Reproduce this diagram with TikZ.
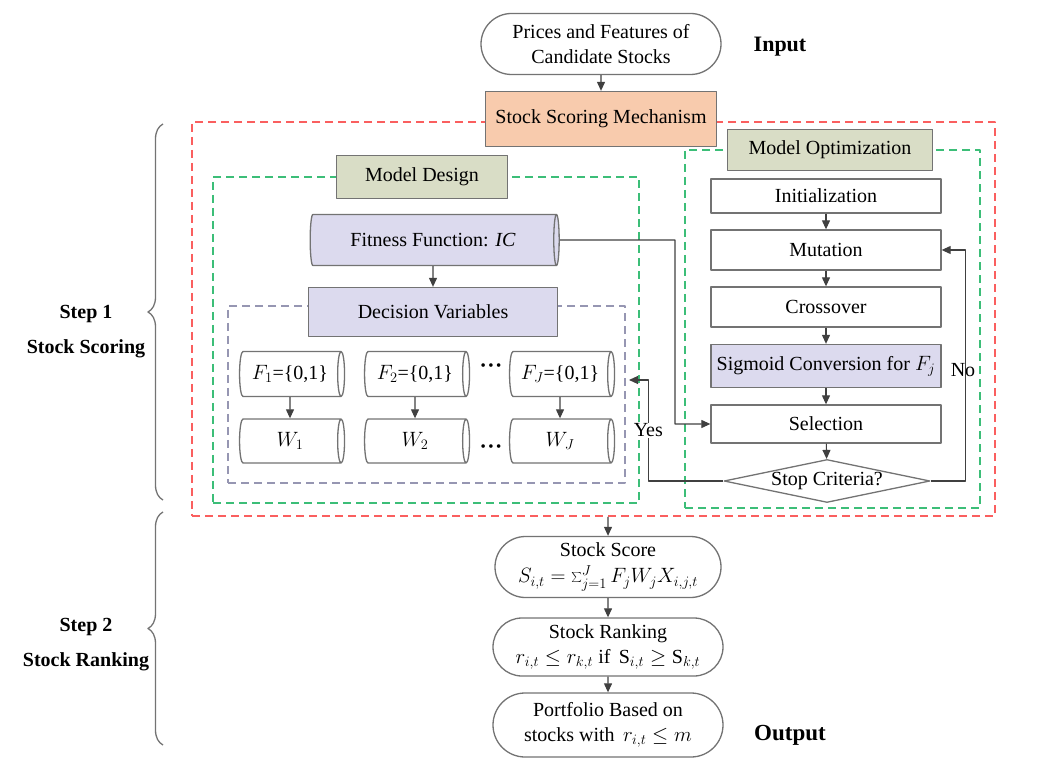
\documentclass[tikz,border=0pt]{standalone}
\usepackage{fontspec}
\setmainfont{Liberation Serif}
\usetikzlibrary{arrows.meta,shapes.geometric,shapes.misc,decorations.pathreplacing}

\definecolor{scorefill}{HTML}{F8CBAD}
\definecolor{headfill}{HTML}{D9DDC6}
\definecolor{varfill}{HTML}{DCDAEE}
\definecolor{redline}{RGB}{250,95,95}
\definecolor{greenline}{RGB}{60,190,120}
\definecolor{grayline}{RGB}{150,150,178}
\definecolor{edgecol}{RGB}{115,115,115}

\tikzset{
  terminal/.style={rounded rectangle, draw=edgecol, line width=1.3pt, fill=white,
    minimum width=230pt, minimum height=60pt, inner sep=0pt, align=center},
  box/.style={rectangle, draw=edgecol, line width=1.3pt, fill=white, inner sep=0pt, align=center},
  optbox/.style={box, minimum width=230pt, minimum height=40pt},
  headbox/.style={box, fill=headfill, minimum height=43pt},
  tube/.style={cylinder, draw=edgecol, line width=1.3pt, fill=white, shape aspect=0.4,
    inner sep=0pt, minimum width=45pt, minimum height=105pt},
  frame/.style={draw, dashed, dash pattern=on 8pt off 5pt, line width=1.5pt, inner sep=0pt},
  arr/.style={->, draw=black!75, line width=1.1pt},
  sidelabel/.style={font=\fontsize{22}{26}\selectfont\bfseries},
  steplabel/.style={font=\fontsize{20}{35}\selectfont\bfseries, align=center},
  dots/.style={font=\fontsize{15}{15}\selectfont, inner sep=0pt},
}

\begin{document}
\begin{tikzpicture}[x=1pt, y=-1pt, >={Triangle[length=9pt,width=8pt]},
    font=\fontsize{20}{25}\selectfont, line join=round]
  \useasboundingbox (0,0) rectangle (1044,783);
  % --- Dashed frames ---
  \node[frame, draw=redline, minimum width=803pt, minimum height=394pt] (scoreframe) at (593.5,319) {};
  \node[frame, draw=greenline, minimum width=426pt, minimum height=326pt] (designframe) at (426,340) {};
  \node[frame, draw=greenline, minimum width=295pt, minimum height=358pt] (optframe) at (832.5,329) {};
  \node[frame, draw=grayline, minimum width=397pt, minimum height=177pt] (varframe) at (426.5,394.5) {};

  % --- Input and scoring mechanism ---
  \node[terminal, minimum width=240pt, minimum height=61pt] (input) at (601,44) {Prices and Features of\\Candidate Stocks};
  \node[box, fill=scorefill, minimum width=231pt, minimum height=55pt] (mech) at (601,119) {Stock Scoring Mechanism};
  \node[sidelabel] (inlabel) at (780,47) {Input};
  \draw[arr] (input) -- (mech);

  % --- Model design ---
  \node[headbox, minimum width=171pt] (design) at (422,177) {Model Design};
  \node[tube, fill=varfill, minimum width=51pt, minimum height=249pt] (fit) at (433,240) {Fitness Function: \textit{IC}};
  \node[box, fill=varfill, minimum width=249pt, minimum height=49pt] (dec) at (433,312) {Decision Variables};
  \draw[arr] (fit) -- (dec);
  \node[tube] (f1) at (290,374) {$F_1$=\{0,1\}};
  \node[tube] (f2) at (415,374) {$F_2$=\{0,1\}};
  \node[tube] (fJ) at (560,374) {$F_J$=\{0,1\}};
  \node[tube, minimum width=44pt] (w1) at (290,441) {$W_1$};
  \node[tube, minimum width=44pt] (w2) at (415,441) {$W_2$};
  \node[tube, minimum width=44pt] (wJ) at (560,441) {$W_J$};
  \node[dots] (dotsF) at (491,367) {\textbullet\,\textbullet\,\textbullet};
  \node[dots] (dotsW) at (491,448) {\textbullet\,\textbullet\,\textbullet};
  \foreach \k in {1,2,J}
    \draw[arr] (f\k) -- (w\k);

  % --- Model optimization ---
  \node[headbox, minimum width=205pt, minimum height=41pt] (opt) at (830,150) {Model Optimization};
  \node[optbox, minimum height=34pt] (init) at (826,196) {Initialization};
  \node[optbox] (mut) at (826,250) {Mutation};
  \node[optbox] (cross) at (826,307) {Crossover};
  \node[optbox, fill=varfill, minimum height=43pt] (sig) at (826,366) {Sigmoid Conversion for $F_j$};
  \node[optbox, minimum height=38pt] (sel) at (826,424) {Selection};
  \node[diamond, draw=edgecol, line width=1.3pt, fill=white, aspect=4.8, inner sep=0pt,
    minimum width=206pt, minimum height=43pt] (stop) at (827,481) {\makebox[0pt]{Stop Criteria?}};
  \draw[arr] (init) -- (mut);
  \draw[arr] (mut) -- (cross);
  \draw[arr] (cross) -- (sig);
  \draw[arr] (sig) -- (sel);
  \draw[arr] (sel) -- (stop);

  % --- Loops ---
  \coordinate (yesend) at (629,380);
  \draw[arr] (stop.east) -- ++(35,0) |- (mut.east);
  \node (nolabel) at (963,370) {No};
  \draw[arr] (stop.west) -- ++(-75,0) |- node[pos=0.25, fill=white, inner sep=1pt] (yeslabel) {Yes} (yesend);
  \draw[arr] (fit.east) -- (675,240) |- (sel.west);

  % --- Scoring and ranking ---
  \node[terminal, minimum width=226pt, minimum height=61pt] (score) at (608,567)
    {Stock Score\\[1pt] $S_{i,t}=\sum_{j=1}^{J}F_jW_jX_{i,j,t}$};
  \node[terminal, minimum height=58pt] (rank) at (608,647)
    {Stock Ranking\\ $r_{i,t}\le r_{k,t}$ if\, $\mathrm{S}_{i,t}\ge \mathrm{S}_{k,t}$};
  \node[terminal, minimum height=64pt] (port) at (608,725)
    {Portfolio Based on\\ stocks with\, $r_{i,t}\le m$};
  \node[sidelabel, font=\fontsize{23}{26}\selectfont\bfseries] (outlabel) at (790,735) {Output};
  \draw[arr] (scoreframe.south -| score.north) -- (score);
  \draw[arr] (score) -- (rank);
  \draw[arr] (rank) -- (port);

  % --- Steps ---
  \draw[edgecol, line width=1.3pt, decorate, decoration={brace, amplitude=15pt}] (163,500) -- (163,124);
  \draw[edgecol, line width=1.3pt, decorate, decoration={brace, amplitude=15pt}] (163,745) -- (163,512);
  \node[steplabel] (step1) at (86,332) {Step 1\\Stock Scoring};
  \node[steplabel] (step2) at (86,645) {Step 2\\Stock Ranking};
\end{tikzpicture}
\end{document}
